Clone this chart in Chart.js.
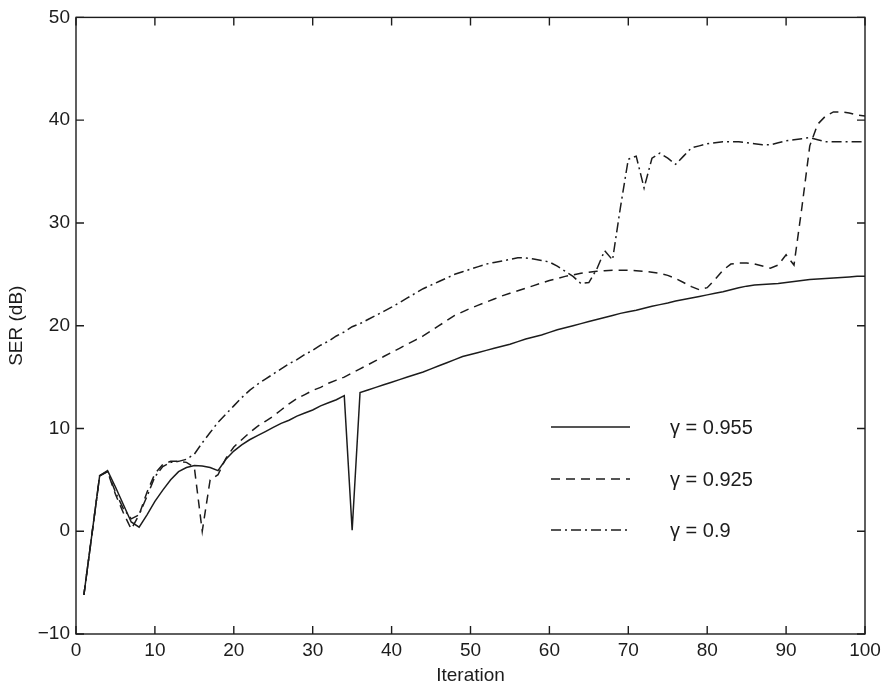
<!DOCTYPE html>
<html>
<head>
<meta charset="utf-8">
<script src="https://cdn.jsdelivr.net/npm/chart.js@4.4.0/dist/chart.umd.min.js"></script>
<style>
  body { margin: 0; background: #fff; }
  #wrap { width: 888px; height: 689px; }
</style>
</head>
<body>
<div id="wrap"><canvas id="ser" width="888" height="689"></canvas></div>
<script>
// iteration index (x)
const iterations = [1,2,3,4,5,6,7,8,9,10,11,12,13,14,15,16,17,18,19,20,
  21,22,23,24,25,26,27,28,29,30,31,32,33,34,35,36,37,38,39,40,
  41,42,43,44,45,46,47,48,49,50,51,52,53,54,55,56,57,58,59,60,
  61,62,63,64,65,66,67,68,69,70,71,72,73,74,75,76,77,78,79,80,
  81,82,83,84,85,86,87,88,89,90,91,92,93,94,95,96,97,98,99,100];

// SER (dB), gamma = 0.955 (solid)
const ser955 = [-6.2,-0.4,5.4,5.9,4.3,2.6,0.9,0.4,1.6,2.9,
  4.0,5.0,5.8,6.2,6.4,6.35,6.2,5.9,7.0,7.8,
  8.4,8.9,9.3,9.7,10.1,10.5,10.8,11.2,11.5,11.8,
  12.2,12.5,12.8,13.2,0.1,13.5,13.75,14.0,14.25,14.5,
  14.75,15.0,15.25,15.5,15.8,16.1,16.4,16.7,17.0,17.2,
  17.4,17.6,17.8,18.0,18.2,18.45,18.7,18.9,19.1,19.35,
  19.6,19.8,20.0,20.2,20.4,20.6,20.8,21.0,21.2,21.35,
  21.5,21.7,21.9,22.05,22.2,22.4,22.55,22.7,22.85,23.0,
  23.15,23.3,23.5,23.7,23.85,23.95,24.0,24.05,24.1,24.2,
  24.3,24.4,24.5,24.55,24.6,24.65,24.7,24.75,24.8,24.8];

// SER (dB), gamma = 0.925 (dashed)
const ser925 = [-6.2,-0.4,5.4,5.8,3.6,1.8,0.2,1.6,3.8,5.6,
  6.5,6.8,6.8,6.7,6.2,0.0,5.0,5.5,7.1,8.2,
  8.9,9.6,10.2,10.7,11.2,11.8,12.4,12.9,13.3,13.7,
  14.0,14.4,14.7,15.0,15.4,15.8,16.2,16.6,17.0,17.4,
  17.8,18.2,18.6,19.0,19.5,20.0,20.5,21.0,21.35,21.7,
  22.0,22.3,22.6,22.9,23.15,23.4,23.65,23.9,24.15,24.4,
  24.6,24.8,24.95,25.1,25.2,25.3,25.35,25.4,25.4,25.4,
  25.35,25.3,25.2,25.1,24.9,24.6,24.2,23.8,23.5,23.7,
  24.5,25.4,26.0,26.1,26.1,26.0,25.8,25.6,25.9,26.9,
  25.9,31.5,37.5,39.6,40.4,40.8,40.8,40.7,40.5,40.4];

// SER (dB), gamma = 0.9 (dash-dot)
const ser90 = [-6.2,-0.4,5.4,5.8,3.8,2.2,1.2,1.6,3.4,5.3,
  6.3,6.7,6.8,7.0,7.5,8.6,9.6,10.6,11.4,12.2,
  13.0,13.7,14.3,14.8,15.3,15.8,16.3,16.7,17.2,17.6,
  18.1,18.5,19.0,19.4,19.9,20.2,20.6,21.0,21.4,21.8,
  22.25,22.7,23.15,23.6,23.95,24.3,24.65,25.0,25.25,25.5,
  25.75,26.0,26.15,26.3,26.45,26.6,26.6,26.5,26.35,26.2,
  25.8,25.3,24.8,24.1,24.2,25.5,27.3,26.4,31.5,36.2,
  36.5,33.4,36.3,36.8,36.3,35.7,36.5,37.3,37.5,37.7,
  37.8,37.9,37.9,37.9,37.8,37.7,37.6,37.6,37.8,38.0,
  38.1,38.2,38.3,38.1,37.9,37.9,37.9,37.9,37.9,37.9];

const seriesLabels = ['γ = 0.955', 'γ = 0.925', 'γ = 0.9'];
const xTicks = [0,10,20,30,40,50,60,70,80,90,100];
const yTicks = [-10,0,10,20,30,40,50];

const ink = '#1c1c1c';
const fontFam = '"Liberation Sans", Arial, Helvetica, sans-serif';

function toPoints(vals) {
  return iterations.map((it, i) => ({ x: it, y: vals[i] }));
}

// box + inward ticks + legend inside the plot
const frame = {
  id: 'frame',
  beforeDraw(chart) {
    const c = chart.ctx;
    c.save();
    c.fillStyle = '#fff';
    c.fillRect(0, 0, chart.width, chart.height);
    c.restore();
  },
  afterDraw(chart) {
    const c = chart.ctx;
    const a = chart.chartArea;
    const xs = chart.scales.x, ys = chart.scales.y;
    const tl = 8;
    c.save();
    c.strokeStyle = ink;
    c.lineWidth = 1.4;
    c.strokeRect(a.left, a.top, a.right - a.left, a.bottom - a.top);
    c.beginPath();
    xTicks.forEach(v => {
      const px = xs.getPixelForValue(v);
      c.moveTo(px, a.bottom); c.lineTo(px, a.bottom - tl);
      c.moveTo(px, a.top); c.lineTo(px, a.top + tl);
    });
    yTicks.forEach(v => {
      const py = ys.getPixelForValue(v);
      c.moveTo(a.left, py); c.lineTo(a.left + tl, py);
      c.moveTo(a.right, py); c.lineTo(a.right - tl, py);
    });
    c.stroke();

    // legend
    const x0 = 551, x1 = 630, tx = 670;
    const rows = [427, 479, 530];
    chart.data.datasets.forEach((ds, i) => {
      c.setLineDash(ds.borderDash || []);
      c.lineWidth = ds.borderWidth;
      c.strokeStyle = ds.borderColor;
      c.beginPath();
      c.moveTo(x0, rows[i]); c.lineTo(x1, rows[i]);
      c.stroke();
      c.setLineDash([]);
      c.fillStyle = ink;
      c.font = '20px ' + fontFam;
      c.textBaseline = 'middle';
      c.fillText(ds.label, tx, rows[i] + 1);
    });
    c.restore();
  }
};

const ctx = document.getElementById('ser');
new Chart(ctx, {
  type: 'line',
  data: {
    datasets: [
      { label: seriesLabels[0], data: toPoints(ser955), borderColor: ink, borderWidth: 1.5, borderDash: [] },
      { label: seriesLabels[1], data: toPoints(ser925), borderColor: ink, borderWidth: 1.5, borderDash: [9, 6] },
      { label: seriesLabels[2], data: toPoints(ser90), borderColor: ink, borderWidth: 1.5, borderDash: [10, 4, 2, 4] }
    ]
  },
  options: {
    responsive: false,
    animation: false,
    elements: { point: { radius: 0 }, line: { tension: 0, fill: false } },
    layout: { padding: { top: 15, right: 23, bottom: 0, left: 0 } },
    plugins: { legend: { display: false }, tooltip: { enabled: false } },
    scales: {
      x: {
        type: 'linear', min: 0, max: 100,
        afterFit: s => { s.height = 55; },
        afterBuildTicks: s => { s.ticks = xTicks.map(v => ({ value: v })); },
        grid: { display: false, drawTicks: false },
        border: { display: false },
        ticks: { color: ink, font: { family: fontFam, size: 19 }, padding: 5, maxRotation: 0 },
        title: { display: true, text: 'Iteration', color: ink, font: { family: fontFam, size: 19 }, padding: { top: 0, bottom: 2 } }
      },
      y: {
        type: 'linear', min: -10, max: 50,
        afterFit: s => { s.width = 76; },
        afterBuildTicks: s => { s.ticks = yTicks.map(v => ({ value: v })); },
        grid: { display: false, drawTicks: false },
        border: { display: false },
        ticks: { color: ink, font: { family: fontFam, size: 19 }, padding: 6,
          callback: v => String(v).replace('-', '\u2212') },
        title: { display: true, text: 'SER (dB)', color: ink, font: { family: fontFam, size: 19 }, padding: { top: 5, bottom: 0 } }
      }
    }
  },
  plugins: [frame]
});
</script>
</body>
</html>
